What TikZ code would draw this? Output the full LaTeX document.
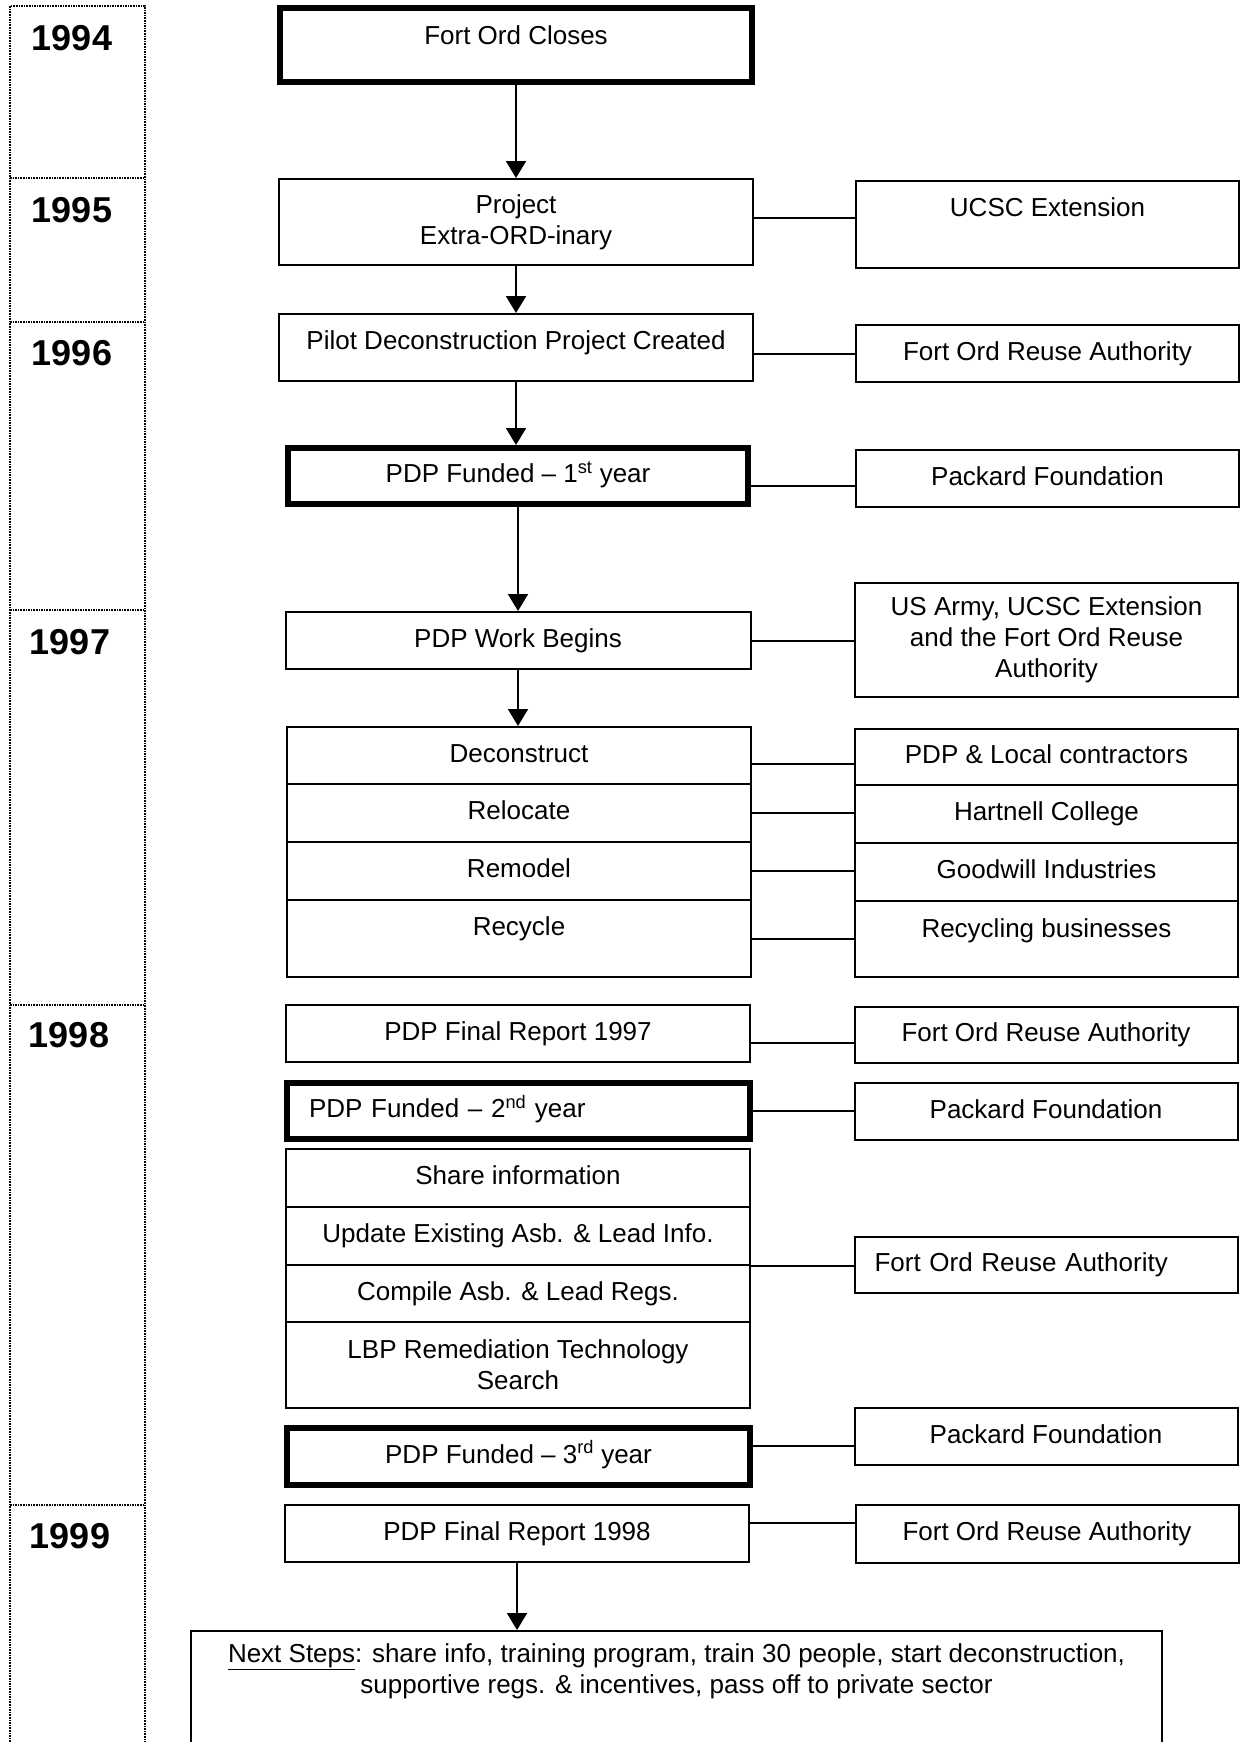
\documentclass[tikz,border=0pt]{standalone}
\usepackage{fontspec}
\setmainfont{Liberation Sans}
\usetikzlibrary{arrows.meta,calc,positioning}

\begin{document}
\begin{tikzpicture}[x=1pt, y=-1pt]
		\tikzstyle{every node}=[font=\fontsize{26}{31}\selectfont]
		\tikzstyle{box}=[draw, line width=2pt, inner sep=0pt, align=center, text height=19.5pt, text depth=6.5pt, minimum width=464pt, minimum height=57pt]
		\tikzstyle{rbox}=[box, minimum width=383pt]
		\tikzstyle{fund}=[box, line width=6pt, minimum width=462pt, minimum height=56pt]
		\tikzstyle{multi}=[text height={}, text depth={}]
		\tikzstyle{year}=[font=\fontsize{36}{40}\selectfont\bfseries]
		\tikzstyle{yearline}=[densely dotted, line width=1.6pt]
		\tikzstyle{link}=[line width=2pt]
		\tikzstyle{flow}=[line width=2pt, -{Triangle[width=20pt, length=17pt]}]
		\fill [white] (0,0) rectangle (1241,1742);
		\useasboundingbox (0,0) rectangle (1241,1742);
		% year column
		\draw [yearline] (10,1742) -- (10,6) -- (145,6) -- (145,1742);
		\foreach \yy in {178,322,610,1005,1505}
			\draw [yearline] (10,\yy) -- (145,\yy);
		\node [year] (y94) at (72,38) {1994};
		\node [year] (y95) at (72,210) {1995};
		\node [year] (y96) at (72,353) {1996};
		\node [year] (y97) at (70,642) {1997};
		\node [year] (y98) at (69,1035) {1998};
		\node [year] (y99) at (70,1536) {1999};
		% main column
		\node [fund, minimum width=472pt, minimum height=74pt, text depth=22pt] (closes) at (516,45.5) {Fort Ord Closes};
		\node [box, multi, minimum width=474pt, minimum height=86pt] (project) at (516,222) {Project\\Extra-ORD-inary};
		\node [box, minimum width=474pt, minimum height=67pt, text depth=16pt] (pilot) at (516,347.5) {Pilot Deconstruction Project Created};
		\node [fund, minimum width=460pt] (funded1) at (518,476) {PDP Funded -- 1\textsuperscript{st} year};
		\node [box, minimum width=465pt] (work) at (518,640.5) {PDP Work Begins};
		\node [box] (decon) at (519,755.5) {Deconstruct};
		\node [box, minimum height=58pt] (reloc) at (519,813) {Relocate};
		\node [box, minimum height=58pt] (remod) at (519,871) {Remodel};
		\node [box, minimum height=77pt, text depth=26pt] (recyc) at (519,938.5) {Recycle};
		\node [box] (final97) at (518,1033.5) {PDP Final Report 1997};
		\node [fund, minimum width=463pt, text width=419pt, align=left] (funded2) at (518.5,1111) {PDP Funded -- 2\textsuperscript{nd} year};
		\node [box, minimum height=58pt] (share) at (518,1178) {Share information};
		\node [box, minimum height=58pt] (update) at (518,1236) {Update Existing Asb. \& Lead Info.};
		\node [box] (compile) at (518,1293.5) {Compile Asb. \& Lead Regs.};
		\node [box, multi, minimum height=86pt] (lbp) at (518,1365) {LBP Remediation Technology\\Search};
		\node [fund, minimum width=463pt, minimum height=57pt] (funded3) at (518.5,1456.5) {PDP Funded -- 3\textsuperscript{rd} year};
		\node [box] (final98) at (517,1533.5) {PDP Final Report 1998};
		\node [box, multi, anchor=north, minimum width=971pt, minimum height=0pt, inner ysep=13pt, text depth=200pt] (next) at (676.5,1630) {\underline{Next Steps}: share info, training program, train 30 people, start deconstruction,\\supportive regs. \& incentives, pass off to private sector};
		% partners
		\node [rbox, minimum height=87pt, text depth=36pt] (ucsc) at (1047.5,224.5) {UCSC Extension};
		\node [rbox] (fora1) at (1047.5,353.5) {Fort Ord Reuse Authority};
		\node [rbox] (packard1) at (1047.5,478.5) {Packard Foundation};
		\node [rbox, multi, minimum height=114pt] (army) at (1046.5,640) {US Army, UCSC Extension\\and the Fort Ord Reuse\\Authority};
		\node [rbox, minimum height=56pt] (local) at (1046.5,757) {PDP \& Local contractors};
		\node [rbox, minimum height=58pt] (hartnell) at (1046.5,814) {Hartnell College};
		\node [rbox, minimum height=58pt] (goodwill) at (1046.5,872) {Goodwill Industries};
		\node [rbox, minimum height=76pt, text depth=23pt] (recycling) at (1046.5,939) {Recycling businesses};
		\node [rbox, minimum height=56pt] (fora2) at (1046,1035) {Fort Ord Reuse Authority};
		\node [rbox] (packard2) at (1046,1111.5) {Packard Foundation};
		\node [rbox, minimum height=56pt, text width=343pt, align=left] (fora3) at (1046,1265) {Fort Ord Reuse Authority};
		\node [rbox] (packard3) at (1046,1436.5) {Packard Foundation};
		\node [rbox, minimum height=58pt] (fora4) at (1047,1534) {Fort Ord Reuse Authority};
		% arrows
		\draw [flow] (closes.south) -- (closes.south |- project.north);
		\draw [flow] (project.south) -- (project.south |- pilot.north);
		\draw [flow] (pilot.south) -- (pilot.south |- funded1.north);
		\draw [flow] (funded1.south) -- (funded1.south |- work.north);
		\draw [flow] (work.south) -- (work.south |- decon.north);
		\draw [flow] (final98.south) -- (final98.south |- next.north);
		% links
		\draw [link] ([yshift=4pt]project.east) -- ([yshift=4pt]project.east -| ucsc.west);
		\draw [link] (pilot.east |- fora1.west) -- (fora1.west);
		\draw [link] ([yshift=-10pt]funded1.east) -- ([yshift=-10pt]funded1.east -| packard1.west);
		\draw [link] (work.east) -- (work.east -| army.west);
		\draw [link] ([yshift=-8.5pt]decon.east) -- ([yshift=-8.5pt]decon.east -| local.west);
		\draw [link] (reloc.east) -- (reloc.east -| hartnell.west);
		\draw [link] (remod.east) -- (remod.east -| goodwill.west);
		\draw [link] (recyc.east) -- (recyc.east -| recycling.west);
		\draw [link] ([yshift=-9.5pt]final97.east) -- ([yshift=-9.5pt]final97.east -| fora2.west);
		\draw [link] (funded2.east) -- (funded2.east -| packard2.west);
		\draw [link] (update.south east) -- (update.south east -| fora3.west);
		\draw [link] ([yshift=10.5pt]funded3.east) -- ([yshift=10.5pt]funded3.east -| packard3.west);
		\draw [link] ([yshift=10.5pt]final98.east) -- ([yshift=10.5pt]final98.east -| fora4.west);
\end{tikzpicture}
\end{document}
